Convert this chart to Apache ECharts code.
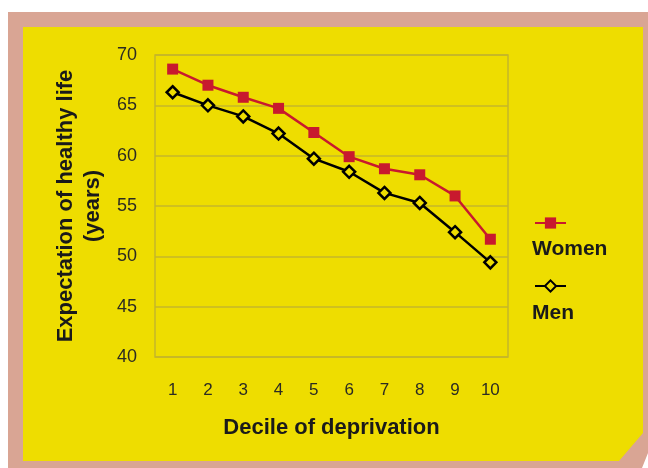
<!DOCTYPE html>
<html>
<head>
<meta charset="utf-8">
<script src="https://cdn.jsdelivr.net/npm/echarts@6/dist/echarts.min.js"></script>
<style>
html,body{margin:0;padding:0;background:#fff;}
#c{width:648px;height:468px;}
</style>
</head>
<body>
<div id="c"></div>
<script>
const categories = ['1','2','3','4','5','6','7','8','9','10'];
const women = [68.6, 67.0, 65.8, 64.7, 62.3, 59.9, 58.7, 58.1, 56.0, 51.7];
const men = [66.3, 65.0, 63.9, 62.2, 59.7, 58.4, 56.3, 55.3, 52.4, 49.4];
const yTicks = [40, 45, 50, 55, 60, 65, 70];
const seriesNames = ['Women', 'Men'];

const chart = echarts.init(document.getElementById('c'), null, {renderer: 'canvas'});
const FONT = 'Liberation Sans';
const option = {
  animation: false,
  backgroundColor: 'transparent',
  graphic: [
    {type: 'polygon', z: -10, silent: true,
     shape: {points: [[8,12],[648,12],[648,453],[642,468],[8,468]]},
     style: {fill: '#D9A594'}},
    {type: 'polygon', z: -9, silent: true,
     shape: {points: [[23,27],[643,27],[643,433],[619,461],[23,461]]},
     style: {fill: '#EEDD00'}},
    {type: 'text', left: 532, top: 239, z: 10,
     style: {text: seriesNames[0], font: 'bold 21px ' + FONT, fill: '#1a1a1a'}},
    {type: 'text', left: 532, top: 303, z: 10,
     style: {text: seriesNames[1], font: 'bold 21px ' + FONT, fill: '#1a1a1a'}}
  ],
  grid: {left: 155, top: 55, right: 140, bottom: 111, show: true,
         borderColor: '#C4B62A', borderWidth: 1.5, backgroundColor: 'transparent'},
  legend: [
    {data: [seriesNames[0]], left: 529, top: 211, itemWidth: 31, itemHeight: 14,
     formatter: function(){ return ''; }, textStyle: {fontSize: 1}},
    {data: [seriesNames[1]], left: 529, top: 274, itemWidth: 31, itemHeight: 14,
     formatter: function(){ return ''; }, textStyle: {fontSize: 1}}
  ],
  xAxis: {
    type: 'category', data: categories, boundaryGap: true,
    axisLine: {show: false}, axisTick: {show: false},
    axisLabel: {margin: 25, fontSize: 17, color: '#2b2b22', fontFamily: FONT},
    name: 'Decile of deprivation', nameLocation: 'middle', nameGap: 60,
    nameTextStyle: {fontSize: 22, fontWeight: 'bold', color: '#1a1a1a', fontFamily: FONT}
  },
  yAxis: {
    type: 'value', min: yTicks[0], max: yTicks[yTicks.length-1], interval: 5,
    axisLine: {show: false}, axisTick: {show: false},
    axisLabel: {margin: 18, fontSize: 18, color: '#2b2b22', fontFamily: FONT},
    splitLine: {show: true, lineStyle: {color: '#C4B62A', width: 1.5}},
    name: 'Expectation of healthy life\n(years)', nameLocation: 'middle', nameRotate: 90, nameGap: 49,
    nameTextStyle: {fontSize: 22, fontWeight: 'bold', color: '#1a1a1a', fontFamily: FONT, lineHeight: 27}
  },
  series: [
    {name: seriesNames[0], type: 'line', data: women,
     symbol: 'rect', symbolSize: 11,
     lineStyle: {color: '#C8192E', width: 2.5},
     itemStyle: {color: '#C8192E', borderColor: '#C8192E', borderWidth: 0}},
    {name: seriesNames[1], type: 'line', data: men,
     symbol: 'diamond', symbolSize: 12,
     lineStyle: {color: '#000000', width: 2.5},
     itemStyle: {color: '#EEDD00', borderColor: '#000000', borderWidth: 2.5}}
  ]
};
chart.setOption(option);
</script>
</body>
</html>
